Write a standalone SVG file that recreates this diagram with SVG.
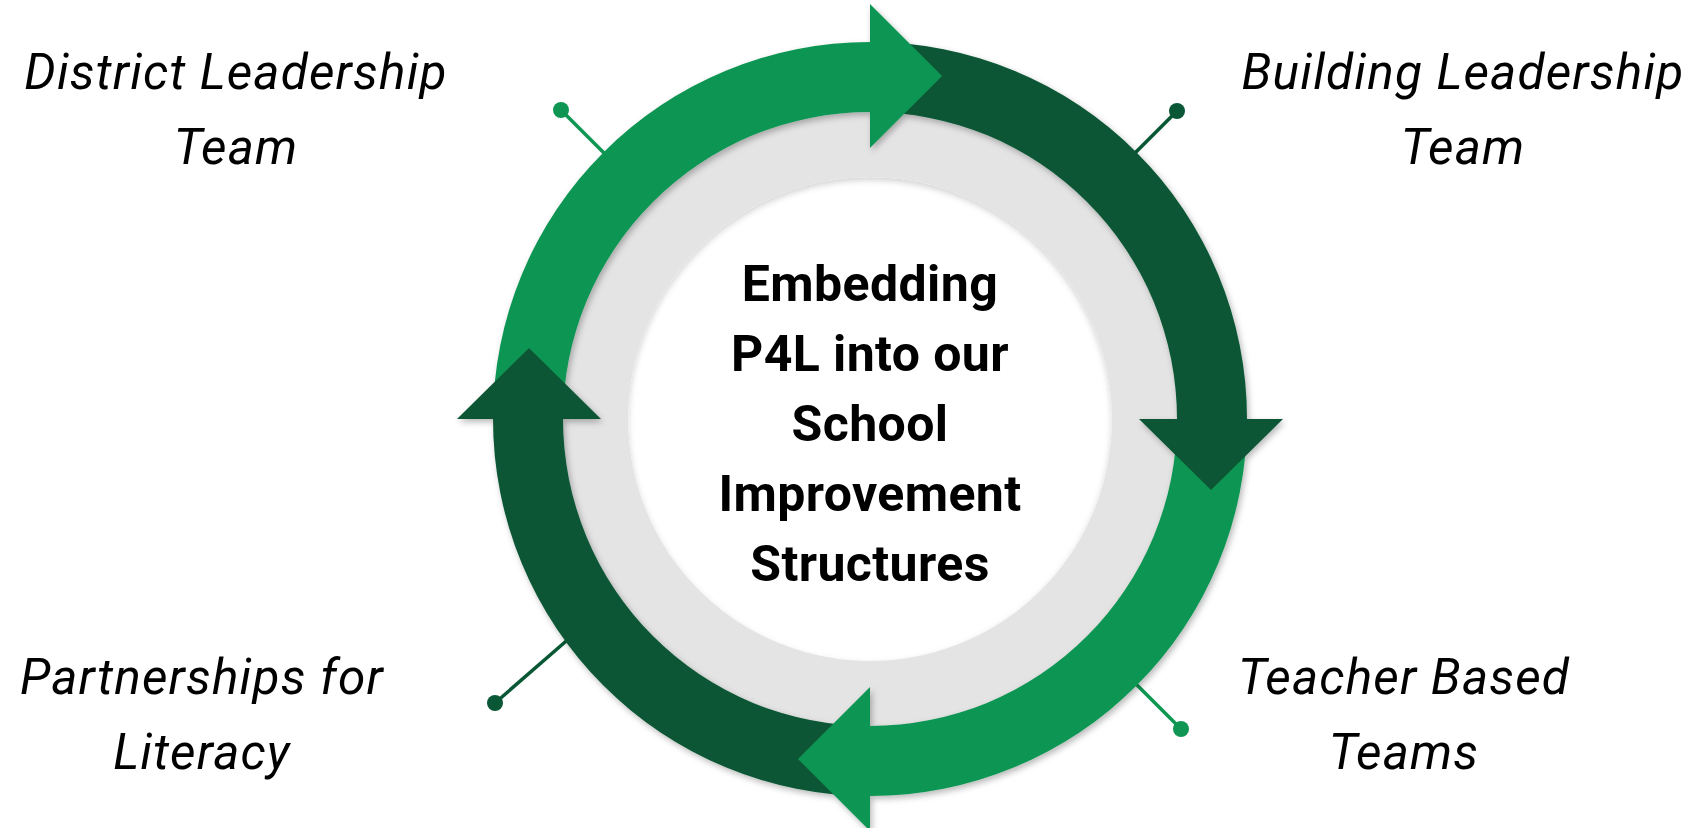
<svg xmlns="http://www.w3.org/2000/svg" width="1704" height="828" viewBox="0 0 1704 828">
<style>
.lbl{font-family:Roboto,"Liberation Sans",sans-serif;font-style:italic;font-size:49.5px;letter-spacing:1.2px;fill:#000;text-anchor:middle}
.ctr{font-family:Roboto,"Liberation Sans",sans-serif;font-weight:bold;font-size:50px;letter-spacing:0.4px;fill:#000;text-anchor:middle}
.lt{fill:#109653}
.dk{fill:#095734}
.ln-lt{stroke:#109653;stroke-width:3.5;fill:none}
.ln-dk{stroke:#095734;stroke-width:3.5;fill:none}
</style>
<defs>
<filter id="sh" x="-10%" y="-10%" width="120%" height="120%">
<feDropShadow dx="2" dy="3" stdDeviation="3" flood-color="#000" flood-opacity="0.28"/>
</filter>
<filter id="sh2" x="-10%" y="-10%" width="120%" height="120%">
<feDropShadow dx="0" dy="3" stdDeviation="3" flood-color="#000" flood-opacity="0.18"/>
</filter>
</defs>
<rect width="1704" height="828" fill="#fff"/>

<g id="connectors">
<line class="ln-lt" x1="610" y1="159" x2="561" y2="110"/>
<circle class="lt" cx="561" cy="110" r="8"/>
<line class="ln-dk" x1="1128" y1="160" x2="1177" y2="111"/>
<circle class="dk" cx="1177" cy="111" r="8"/>
<line class="ln-dk" x1="572" y1="636" x2="495" y2="703"/>
<circle class="dk" cx="495" cy="703" r="8"/>
<line class="ln-lt" x1="1130" y1="678" x2="1181" y2="729"/>
<circle class="lt" cx="1181" cy="729" r="8"/>
</g>

<g id="ring-base">
<path d="M870 99 A320 320 0 1 1 869.99 99 Z M870 177 A242 242 0 1 0 870.01 177 Z" fill="#e4e4e4" fill-rule="evenodd" filter="url(#sh2)"/>
</g>

<g id="cycle" filter="url(#sh)">
<path class="lt" d="M493 419 A377 377 0 0 1 870 42 L870 112 A307 307 0 0 0 563 419 Z"/>
<path class="dk" d="M870 42 A377 377 0 0 1 1247 419 L1177 419 A307 307 0 0 0 870 112 Z"/>
<path class="lt" d="M1247 419 A377 377 0 0 1 870 796 L870 726 A307 307 0 0 0 1177 419 Z"/>
<path class="dk" d="M870 796 A377 377 0 0 1 493 419 L563 419 A307 307 0 0 0 870 726 Z"/>
<polygon class="lt" points="870,4 942,76 870,148"/>
<polygon class="dk" points="1139,419 1283,419 1211,490"/>
<polygon class="lt" points="870,687 870,831 798,759"/>
<polygon class="dk" points="457,419 601,419 529,348"/>
</g>

<g id="center">
<text class="ctr" x="870" y="301">Embedding</text>
<text class="ctr" x="870" y="371">P4L into our</text>
<text class="ctr" x="870" y="441">School</text>
<text class="ctr" x="870" y="511">Improvement</text>
<text class="ctr" x="870" y="581">Structures</text>
</g>

<g id="district">
<text class="lbl" x="236" y="89">District Leadership</text>
<text class="lbl" x="236" y="164">Team</text>
</g>
<g id="building">
<text class="lbl" x="1463" y="89">Building Leadership</text>
<text class="lbl" x="1463" y="164">Team</text>
</g>
<g id="partnerships">
<text class="lbl" x="202" y="694">Partnerships for</text>
<text class="lbl" x="202" y="769">Literacy</text>
</g>
<g id="teacher">
<text class="lbl" x="1404" y="694">Teacher Based</text>
<text class="lbl" x="1404" y="769">Teams</text>
</g>
</svg>
